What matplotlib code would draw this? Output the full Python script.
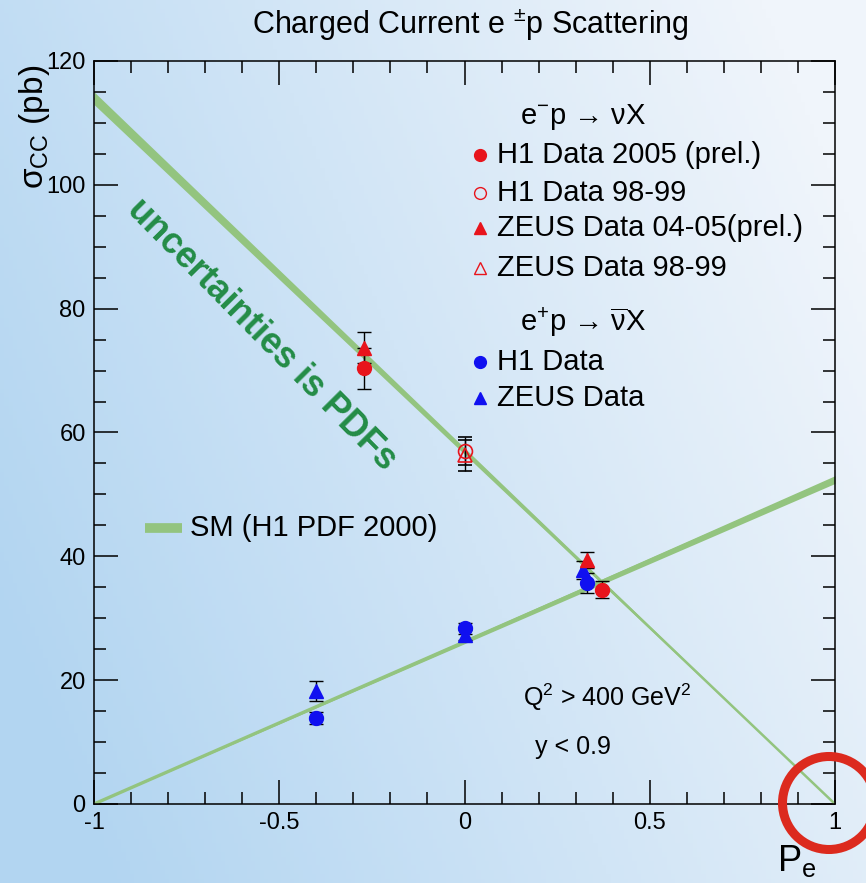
"""
Charged current e+-p cross section vs lepton beam polarisation,
H1 and ZEUS data against the SM expectation.
"""
import numpy as np
import matplotlib
matplotlib.use('Agg')
import matplotlib.pyplot as plt
from matplotlib.patches import Ellipse
from matplotlib.ticker import MultipleLocator

plt.rcParams['font.family'] = ['Liberation Sans', 'DejaVu Sans']
plt.rcParams['mathtext.fontset'] = 'custom'
plt.rcParams['mathtext.rm'] = 'Liberation Sans'
plt.rcParams['mathtext.it'] = 'Liberation Sans:italic'

# e-p -> nu X
h1_05_P = [-0.27, 0.37]
h1_05_sig = [70.4, 34.6]
h1_05_err = [3.3, 1.4]

zeus_0405_P = [-0.27, 0.33]
zeus_0405_sig = [73.7, 39.4]
zeus_0405_err = [2.5, 1.3]

h1_9899_P = [0.0]
h1_9899_sig = [57.0]
h1_9899_err = [2.2]

zeus_9899_P = [0.0]
zeus_9899_sig = [56.3]
zeus_9899_err = [2.5]

# e+p -> nubar X
h1_pos_P = [-0.40, 0.0, 0.33]
h1_pos_sig = [13.9, 28.4, 35.7]
h1_pos_err = [1.0, 0.9, 1.6]

zeus_pos_P = [-0.40, 0.0, 0.32]
zeus_pos_sig = [18.2, 27.3, 37.8]
zeus_pos_err = [1.6, 0.8, 1.5]

# SM (H1 PDF 2000): sigma(P) = sigma0 * (1 -+ P), relative band half width
sm_em_sig0 = 57.0
sm_ep_sig0 = 26.2
sm_em_rel = 0.009
sm_ep_rel = 0.012

RED = '#e8141c'
BLUE = '#1010f0'
GREEN = '#93c47f'
DKGREEN = '#238c46'

fig = plt.figure(figsize=(8.66, 8.83), dpi=100)

# background gradient
bg = fig.add_axes([0, 0, 1, 1], zorder=-10)
xx, yy = np.meshgrid(np.linspace(0, 1, 200), np.linspace(1, 0, 200))
s = np.clip(0.85 * xx + 0.35 * yy - 0.1, 0, 1)[..., None]
c_left = np.array([178, 213, 241]) / 255.
c_right = np.array([240, 245, 251]) / 255.
bg.imshow(c_left * (1 - s) + c_right * s, aspect='auto', extent=[0, 1, 0, 1])
bg.axis('off')

ax = fig.add_axes([94 / 866, 1 - 804 / 883, 741 / 866, 743 / 883])
ax.set_facecolor('none')
ax.set_xlim(-1, 1)
ax.set_ylim(0, 120)

# SM bands
P = np.linspace(-1, 1, 300)
em = sm_em_sig0 * (1 - P)
ep = sm_ep_sig0 * (1 + P)
ax.fill_between(P, em * (1 - sm_em_rel), em * (1 + sm_em_rel), color=GREEN, lw=0)
ax.plot(P, em, color=GREEN, lw=1.8, solid_capstyle='butt')
ax.fill_between(P, ep * (1 - sm_ep_rel), ep * (1 + sm_ep_rel), color=GREEN, lw=0)
ax.plot(P, ep, color=GREEN, lw=2.4, solid_capstyle='butt')

# data
ekw = dict(ls='none', ecolor='black', elinewidth=1.0, capsize=5, capthick=1.0, ms=10)
ax.errorbar(zeus_pos_P, zeus_pos_sig, yerr=zeus_pos_err, marker='^', mfc=BLUE, mec=BLUE, **ekw)
ax.errorbar(h1_pos_P, h1_pos_sig, yerr=h1_pos_err, marker='o', mfc=BLUE, mec=BLUE, **ekw)
ax.errorbar(zeus_9899_P, zeus_9899_sig, yerr=zeus_9899_err, marker='^', mfc='none', mec=RED, mew=1.2, **ekw)
ax.errorbar(h1_9899_P, h1_9899_sig, yerr=h1_9899_err, marker='o', mfc='none', mec=RED, mew=1.2, **ekw)
ax.errorbar(zeus_0405_P, zeus_0405_sig, yerr=zeus_0405_err, marker='^', mfc=RED, mec=RED, **ekw)
ax.errorbar(h1_05_P, h1_05_sig, yerr=h1_05_err, marker='o', mfc=RED, mec=RED, **ekw)

# axes styling (ROOT like)
ax.xaxis.set_major_locator(MultipleLocator(0.5))
ax.xaxis.set_minor_locator(MultipleLocator(0.1))
ax.yaxis.set_major_locator(MultipleLocator(20))
ax.yaxis.set_minor_locator(MultipleLocator(5))
ax.tick_params(which='both', direction='in', top=True, right=True, width=1.1, labelsize=17)
ax.tick_params(which='major', length=17, pad=6)
ax.tick_params(which='minor', length=8.5)
ax.set_xticks([-1, -0.5, 0, 0.5, 1], ['-1', '-0.5', '0', '0.5', '1'])
for sp in ax.spines.values():
    sp.set_linewidth(1.1)

ax.set_ylabel('σ$_{\\mathrm{CC}}$ (pb)', fontsize=24, loc='top')
ax.yaxis.set_label_coords(-0.057, 0.995)
ax.set_xlabel('P$_{\\mathrm{e}}$', fontsize=26, loc='right')
ax.xaxis.set_label_coords(0.975, -0.052)

fig.text(470 / 866, 1 - 25 / 883, 'Charged Current e $^{\\pm}$p Scattering',
         fontsize=22, ha='center', va='center')

# rotated comment
ax.text(0.227, 0.631, 'uncertainties is PDFs', color=DKGREEN, fontsize=26,
        fontweight='bold', rotation=-45.3, ha='center', va='center',
        transform=ax.transAxes, rotation_mode='anchor')

# legend, drawn by hand
lfs = 21
tr = ax.transAxes
mx, tx, hx = 0.521, 0.544, 0.575
ax.text(hx, 0.925, 'e$^{-}$p → νX', fontsize=lfs, va='center', transform=tr)
rows = [(0.873, 'o', RED, RED, 'H1 Data 2005 (prel.)'),
        (0.822, 'o', 'none', RED, 'H1 Data 98-99'),
        (0.775, '^', RED, RED, 'ZEUS Data 04-05(prel.)'),
        (0.721, '^', 'none', RED, 'ZEUS Data 98-99'),
        (0.595, 'o', BLUE, BLUE, 'H1 Data'),
        (0.546, '^', BLUE, BLUE, 'ZEUS Data')]
for y, m, fc, ec, lab in rows:
    ax.plot([mx], [y], marker=m, ms=8.5, mfc=fc, mec=ec, mew=1.0, transform=tr, clip_on=False)
    ax.text(tx, y, lab, fontsize=lfs, va='center', transform=tr)
ax.text(hx, 0.649, 'e$^{+}$p → $\\overline{\\mathrm{\\nu}}$X', fontsize=lfs, va='center', transform=tr)

ax.plot([0.069, 0.119], [0.371, 0.371], color=GREEN, lw=7, transform=tr, solid_capstyle='butt')
ax.text(0.129, 0.371, 'SM (H1 PDF 2000)', fontsize=lfs, va='center', transform=tr)

ax.text(0.579, 0.144, 'Q$^{2}$ > 400 GeV$^{2}$', fontsize=18, va='center', transform=tr)
ax.text(0.595, 0.077, 'y < 0.9', fontsize=18, va='center', transform=tr)

# red ring around P = 1, sigma = 0
ring = Ellipse((829 / 866, 1 - 803 / 883), 2 * 46.5 / 866, 2 * 46.5 / 883,
               transform=fig.transFigure, fill=False, edgecolor='#dc2a1e', lw=6.5,
               clip_on=False, zorder=20)
fig.patches.append(ring)

fig.savefig('out.png', dpi=100)
